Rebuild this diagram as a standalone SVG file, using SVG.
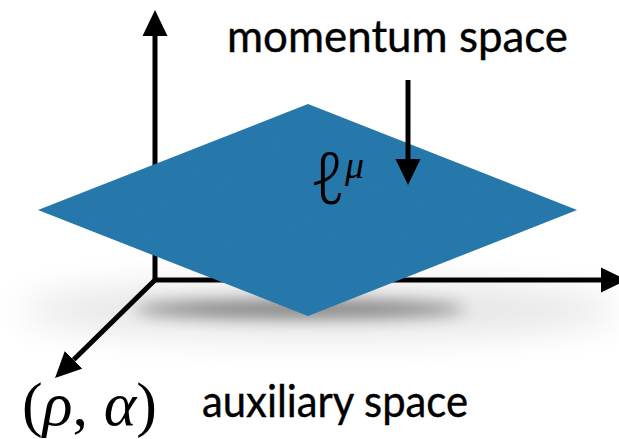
<svg xmlns="http://www.w3.org/2000/svg" width="619" height="439" viewBox="0 0 619 439">
  <style>
    .axis { fill: none; stroke: #000; stroke-width: 5; stroke-linejoin: miter; }
    .label { font-family: Lato, "Open Sans", "Liberation Sans", sans-serif; font-size: 45px; fill: #000; stroke: #000; stroke-width: 0.4; }
    .math { font-family: "Liberation Serif", "DejaVu Serif", serif; fill: #000; }
  </style>
  <defs>
    <marker id="head" markerUnits="userSpaceOnUse" markerWidth="27" markerHeight="26" refX="0" refY="12.5" orient="auto-start-reverse" viewBox="0 0 27 25">
      <path d="M0,0 L26,12.5 L0,25 Z" fill="#000"/>
    </marker>
    <filter id="blurBig" x="-50%" y="-200%" width="200%" height="500%">
      <feGaussianBlur stdDeviation="18"/>
    </filter>
    <filter id="blurSmall" x="-50%" y="-200%" width="200%" height="500%">
      <feGaussianBlur stdDeviation="8"/>
    </filter>
    <filter id="grain" x="0" y="0" width="100%" height="100%">
      <feTurbulence type="fractalNoise" baseFrequency="0.9" numOctaves="2" seed="3" result="n"/>
      <feColorMatrix in="n" type="matrix" values="0 0 0 0 0  0 0 0 0 0  0 0 0 0 0  0 0 0 0.12 0" result="g"/>
      <feComposite in="g" in2="SourceGraphic" operator="in" result="gi"/>
      <feMerge><feMergeNode in="SourceGraphic"/><feMergeNode in="gi"/></feMerge>
    </filter>
  </defs>

  <g id="shadow">
    <ellipse cx="320" cy="310" rx="300" ry="28" fill="#000" opacity="0.10" filter="url(#blurBig)"/>
    <ellipse cx="300" cy="309" rx="165" ry="9" fill="#000" opacity="0.45" filter="url(#blurSmall)"/>
  </g>

  <g id="connectors">
    <path class="axis" d="M155,36 L155,280 L601,280" marker-start="url(#head)" marker-end="url(#head)"/>
    <path class="axis" d="M155,280 L73.6,359.8" marker-end="url(#head)"/>
  </g>

  <g id="momentum-plane">
    <polygon points="308,104 577,210 308,316 38,210" fill="#2c7bb0" filter="url(#grain)"/>
  </g>

  <g id="pointer">
    <path class="axis" d="M408,80 L408,159" marker-end="url(#head)"/>
  </g>

  <g id="label-momentum">
    <text class="label" x="227" y="52" textLength="341" lengthAdjust="spacingAndGlyphs">momentum space</text>
  </g>

  <g id="label-l">
    <text x="310" y="204" font-family="'Noto Sans', 'DejaVu Serif', serif" font-size="72" font-style="italic" font-weight="300">ℓ</text>
    <text class="math" x="345" y="178" font-size="38" font-style="italic">μ</text>
  </g>

  <g id="label-aux">
    <text class="math" x="22" y="425" font-size="62" textLength="135" lengthAdjust="spacing">(<tspan font-style="italic">ρ</tspan>, <tspan font-style="italic">α</tspan>)</text>
    <text class="label" x="202" y="417" textLength="266" lengthAdjust="spacingAndGlyphs">auxiliary space</text>
  </g>
</svg>
